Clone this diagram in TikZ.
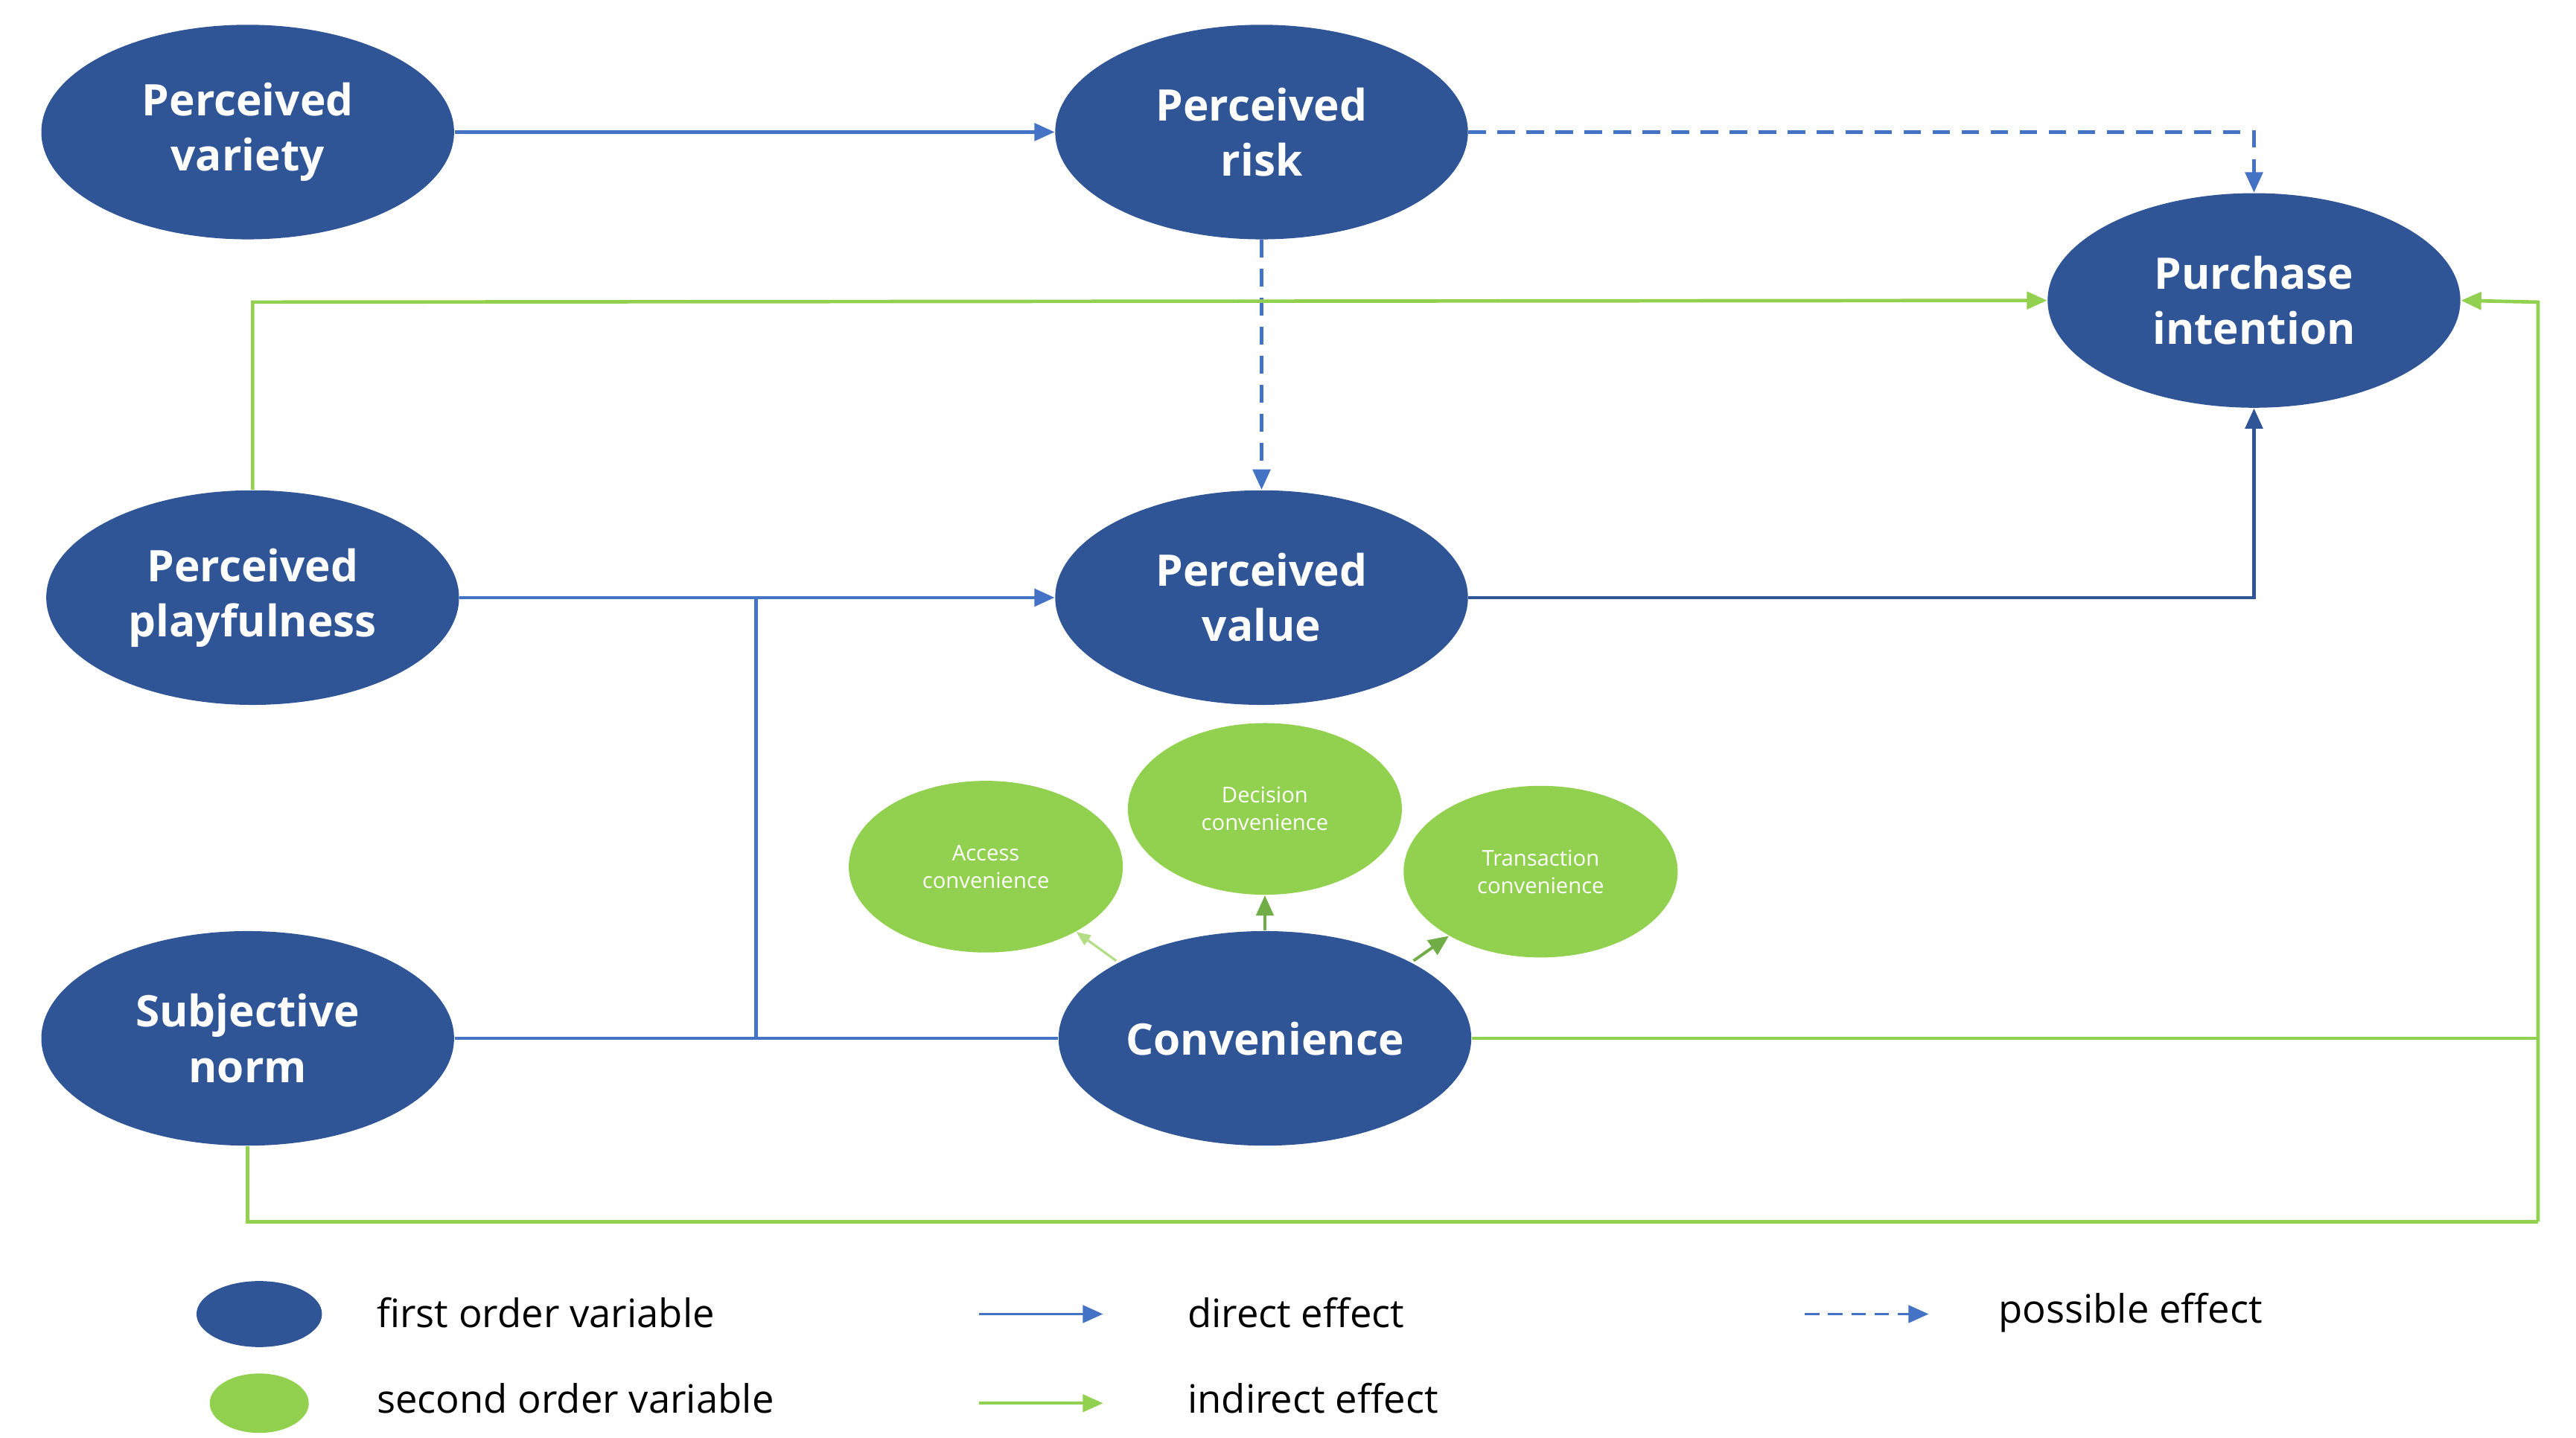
\documentclass[tikz,border=0pt]{standalone}
\usepackage{fontspec}
\setmainfont{Open Sans}
\usetikzlibrary{arrows.meta,shapes.geometric}
\definecolor{dk}{HTML}{2F5597}
\definecolor{bl}{HTML}{4472C4}
\definecolor{gr}{HTML}{92D050}
\definecolor{gd}{HTML}{70AD47}
\begin{document}
\begin{tikzpicture}[x=0.02cm,y=-0.02cm,
 bignode/.style={ellipse,fill=dk,minimum width=5cm,minimum height=2.6cm,align=center,text=white,font=\fontsize{15}{19}\selectfont\bfseries,inner sep=0pt},
 smallnode/.style={ellipse,fill=gr,minimum width=3.32cm,minimum height=2.08cm,align=center,text=white,font=\fontsize{7.5}{9.5}\selectfont,inner sep=0pt},
 direff/.style={bl,line width=1.2pt,-{Triangle[length=7pt,width=6pt]}},
 poseff/.style={direff,dash pattern=on 6pt off 4pt},
 indeff/.style={gr,line width=1.2pt,-{Triangle[length=7pt,width=6pt]}},
 legtext/.style={anchor=west,font=\fontsize{13.5}{16}\selectfont}]
\path[use as bounding box] (0,0) rectangle (1560,871);
\node[bignode] (pv) at (150,80) {Perceived\\variety};
\node[bignode] (pr) at (764,80) {Perceived\\risk};
\node[bignode] (pi) at (1365,182) {Purchase\\intention};
\node[bignode] (pp) at (153,362) {Perceived\\playfulness};
\node[bignode] (val) at (764,362) {Perceived\\value};
\node[bignode] (sn) at (150,629) {Subjective\\norm};
\node[bignode] (cv) at (766,629) {Convenience};
\node[smallnode] (ac) at (597,525) {Access\\convenience};
\node[smallnode] (dc) at (766,490) {Decision\\convenience};
\node[smallnode] (tc) at (933,528) {Transaction\\convenience};
\coordinate (j1) at (458,362);
\coordinate (j2) at (458,629);
\coordinate (c1) at (1365,80);
\coordinate (c2) at (153,183);
\coordinate (c3) at (1365,362);
\coordinate (c4) at (1537,629);
\coordinate (c5) at (1537,183);
\coordinate (c6) at (150,740);
\coordinate (c7) at (1537,740);
\draw[direff] (pv) -- (pr);
\draw[poseff] (pr.east) -- (c1) -- (pi.north);
\draw[poseff] (pr) -- (val);
\draw[indeff] (pp.north) -- (c2) -- (pi.west);
\draw[direff] (pp) -- (val);
\draw[bl,line width=1.2pt] (j1) -- (j2);
\draw[bl,line width=1.2pt] (sn) -- (cv);
\draw[dk,line width=1.2pt,-{Triangle[length=7pt,width=6pt]}] (val.east) -- (c3) -- (pi.south);
\draw[gr,line width=1.2pt] (cv.east) -- (c4);
\draw[indeff] (c7) -- (c5) -- (pi.east);
\draw[gr,line width=1.2pt] (sn.south) -- (c6) -- (c7);
\draw[gd,line width=1pt,-{Triangle[length=7pt,width=6pt]}] (cv.north) -- (dc);
\coordinate (s1) at (676,582); \coordinate (s2) at (856,582);
\draw[gr!70,line width=0.8pt,-{Triangle[length=5pt,width=4pt]}] (s1) -- (ac);
\draw[gd,line width=1pt,-{Triangle[length=7pt,width=6pt]}] (s2) -- (tc);
\node[ellipse,fill=dk,minimum width=1.52cm,minimum height=0.8cm] (l1) at (157,796) {};
\node[ellipse,fill=gr,minimum width=1.2cm,minimum height=0.72cm] (l2) at (157,850) {};
\node[legtext] (t1) at (222,795) {first order variable};
\node[legtext] (t2) at (222,847) {second order variable};
\coordinate (a1) at (593,796); \coordinate (a2) at (668,796);
\coordinate (a3) at (593,850); \coordinate (a4) at (668,850);
\coordinate (a5) at (1093,796); \coordinate (a6) at (1168,796);
\draw[direff,line width=1pt] (a1) -- (a2);
\draw[indeff,line width=1pt] (a3) -- (a4);
\draw[poseff,line width=1pt,dash pattern=on 5pt off 3pt] (a5) -- (a6);
\node[legtext] (t3) at (713,795) {direct effect};
\node[legtext] (t4) at (713,847) {indirect effect};
\node[legtext] (t5) at (1204,795) {possible effect};
\end{tikzpicture}
\end{document}
